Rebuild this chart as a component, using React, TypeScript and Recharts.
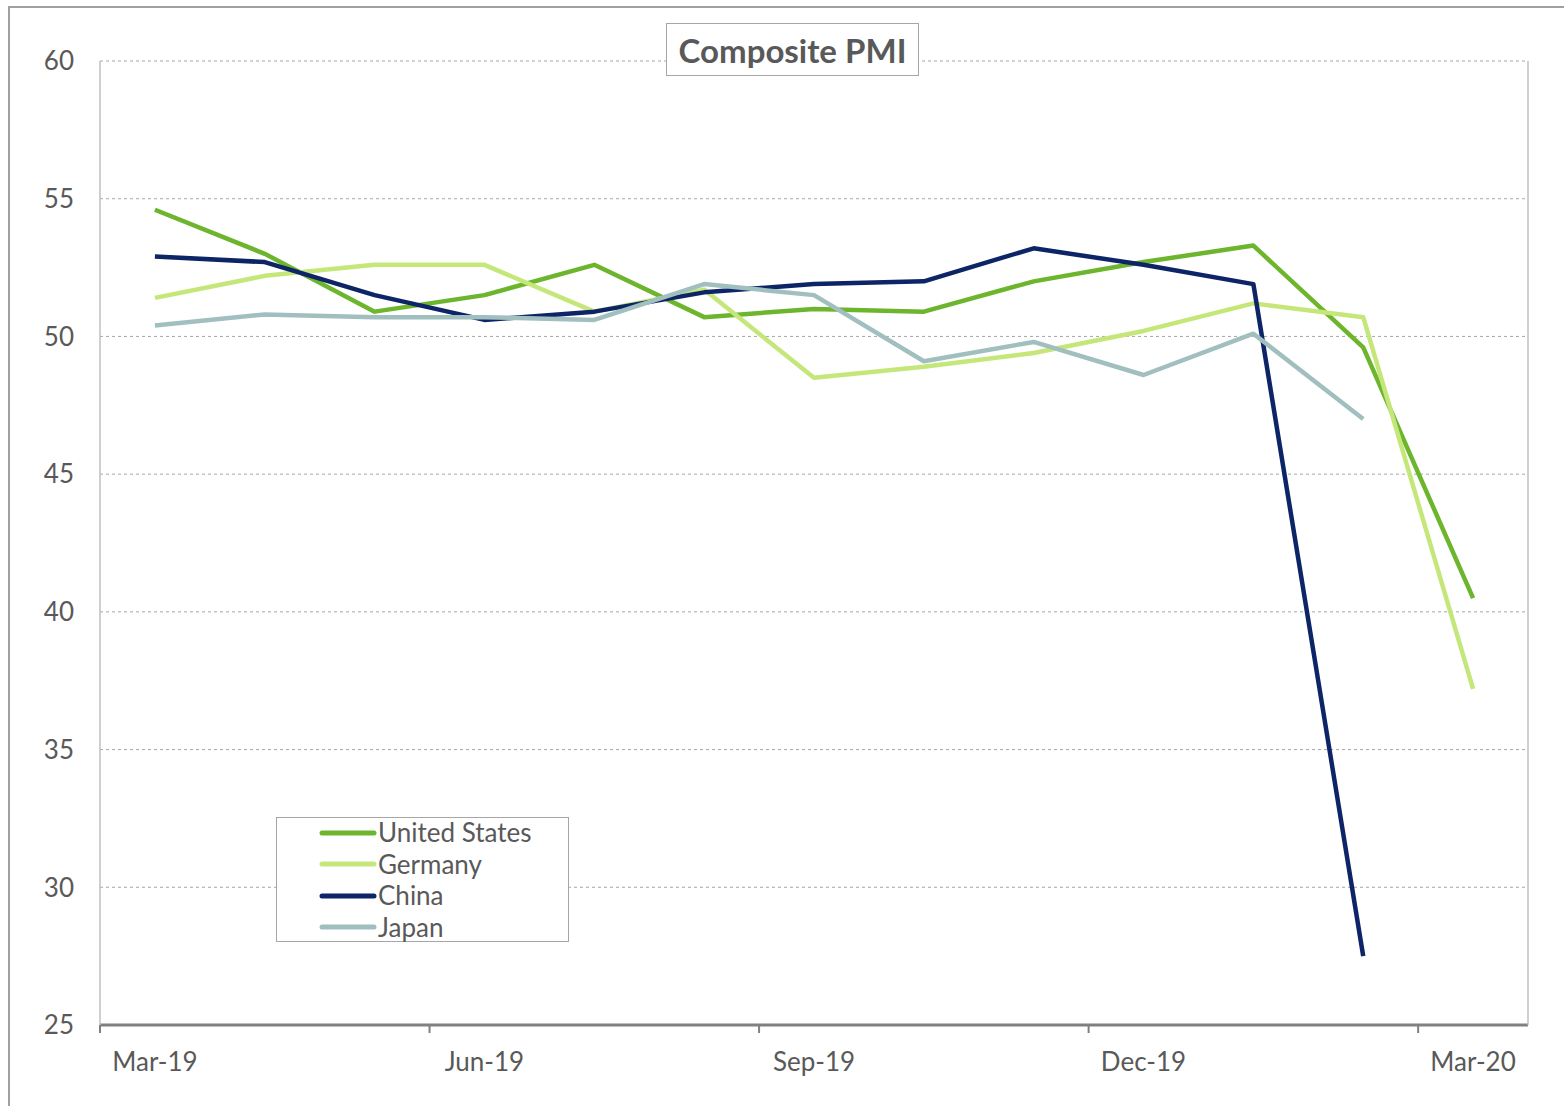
import {
  LineChart,
  Line,
  XAxis,
  YAxis,
  CartesianGrid,
  Legend,
} from "recharts";

const months = [
  "Mar-19", "Apr-19", "May-19", "Jun-19", "Jul-19", "Aug-19", "Sep-19",
  "Oct-19", "Nov-19", "Dec-19", "Jan-20", "Feb-20", "Mar-20",
];

const unitedStates = [54.6, 53.0, 50.9, 51.5, 52.6, 50.7, 51.0, 50.9, 52.0, 52.7, 53.3, 49.6, 40.5];
const germany = [51.4, 52.2, 52.6, 52.6, 50.9, 51.7, 48.5, 48.9, 49.4, 50.2, 51.2, 50.7, 37.2];
const china = [52.9, 52.7, 51.5, 50.6, 50.9, 51.6, 51.9, 52.0, 53.2, 52.6, 51.9, 27.5, null];
const japan = [50.4, 50.8, 50.7, 50.7, 50.6, 51.9, 51.5, 49.1, 49.8, 48.6, 50.1, 47.0, null];

const yTicks = [25, 30, 35, 40, 45, 50, 55, 60];
const labelTicks = [0, 3, 6, 9, 12];
const markTicks = [-0.5, 2.5, 5.5, 8.5, 11.5];

const series = [
  { key: "us", name: "United States", color: "#6cb52d" },
  { key: "de", name: "Germany", color: "#c5e77a" },
  { key: "cn", name: "China", color: "#0d2466" },
  { key: "jp", name: "Japan", color: "#a2bfc0" },
];

const data = months.map((m, i) => ({
  i,
  month: m,
  us: unitedStates[i],
  de: germany[i],
  cn: china[i],
  jp: japan[i],
}));

const font = "Lato, 'Open Sans', sans-serif";
const textColor = "#595959";

function LegendBox() {
  return (
    <div
      style={{
        border: "1px solid #a6a6a6",
        background: "#fff",
        width: 293,
        height: 125,
        boxSizing: "border-box",
        paddingLeft: 42,
        paddingTop: 0,
        fontFamily: font,
        fontSize: 26,
        color: textColor,
      }}
    >
      {series.map((s) => (
        <div key={s.key} style={{ display: "flex", alignItems: "center", height: 31.5, lineHeight: "31px", marginTop: s.key === "us" ? -1 : 0 }}>
          <svg width={58} height={8} style={{ marginRight: 1 }}>
            <line x1={3} y1={4} x2={55} y2={4} stroke={s.color} strokeWidth={5} strokeLinecap="round" />
          </svg>
          <span>{s.name}</span>
        </div>
      ))}
    </div>
  );
}

const NoLabel = () => <g />;

export default function App() {
  return (
    <div
      style={{
        position: "absolute",
        left: 0,
        top: 0,
        width: 1564,
        height: 1106,
        overflow: "hidden",
        background: "#fff",
      }}
    >
      <div
        style={{
          position: "absolute",
          left: 8,
          top: 6,
          width: 1700,
          height: 1300,
          border: "2px solid #a0a0a0",
        }}
      />
      <div style={{ position: "absolute", left: 0, top: 0 }}>
        <LineChart
          width={1564}
          height={1106}
          data={data}
          margin={{ top: 61, right: 35, bottom: 25, left: 20 }}
        >
          <CartesianGrid
            horizontal
            vertical={false}
            stroke="#a6a6a6"
            strokeDasharray="3 3"
          />
          <XAxis
            xAxisId="b"
            dataKey="i"
            type="number"
            domain={[-0.5, 12.5]}
            ticks={labelTicks}
            tickFormatter={(v: number) => months[v]}
            axisLine={false}
            tickLine={false}
            tickSize={0}
            tickMargin={27}
            height={55}
            tick={{ fill: textColor, fontSize: 26, fontFamily: font }}
            allowDataOverflow
          />
          <XAxis
            xAxisId="a"
            dataKey="i"
            type="number"
            domain={[-0.5, 12.5]}
            ticks={markTicks}
            tick={NoLabel}
            tickSize={8}
            tickLine={{ stroke: "#808080", strokeWidth: 2 }}
            axisLine={{ stroke: "#808080", strokeWidth: 3 }}
            height={1}
            allowDataOverflow
          />
          <YAxis
            domain={[25, 60]}
            ticks={yTicks}
            width={80}
            axisLine={{ stroke: "#bfbfbf", strokeWidth: 1.5 }}
            tickLine={false}
            tickSize={0}
            tickMargin={26}
            tick={{ fill: textColor, fontSize: 26, fontFamily: font }}
          />
          <YAxis
            yAxisId="r"
            orientation="right"
            domain={[25, 60]}
            ticks={yTicks}
            width={1}
            tick={false}
            tickLine={false}
            axisLine={{ stroke: "#bfbfbf", strokeWidth: 1.5 }}
          />
          <Legend
            layout="horizontal"
            verticalAlign="middle"
            align="center"
            content={() => <LegendBox />}
            wrapperStyle={{ left: 276, top: 817, width: 293, height: 125 }}
          />
          {series.map((s) => (
            <Line
              key={s.key}
              xAxisId="b"
              type="linear"
              dataKey={s.key}
              name={s.name}
              stroke={s.color}
              strokeWidth={4.5}
              strokeLinejoin="round"
              dot={false}
              activeDot={false}
              isAnimationActive={false}
            />
          ))}
        </LineChart>
      </div>
      <div
        style={{
          position: "absolute",
          left: 666,
          top: 23,
          width: 253,
          height: 53,
          boxSizing: "border-box",
          border: "1px solid #a6a6a6",
          background: "#fff",
          display: "flex",
          alignItems: "center",
          justifyContent: "center",
          fontFamily: font,
          fontWeight: 700,
          fontSize: 33,
          color: textColor,
        }}
      >
        Composite PMI
      </div>
    </div>
  );
}
